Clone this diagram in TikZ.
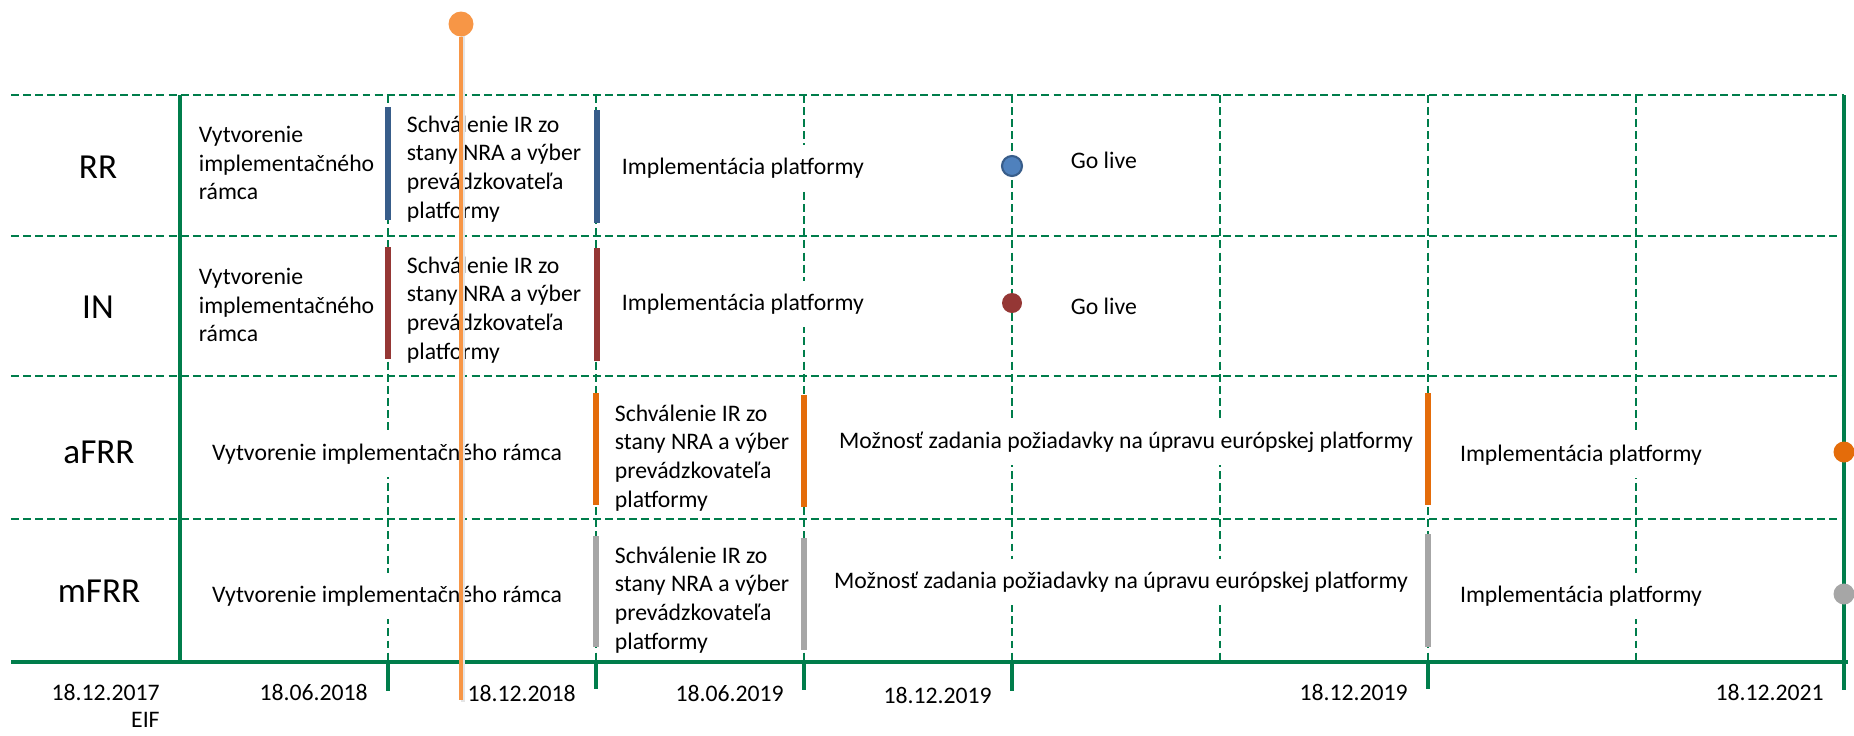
\documentclass[tikz,border=0pt]{standalone}
\usepackage{fontspec}
\setmainfont{Carlito}
\definecolor{tlgreen}{RGB}{0,125,75}
\definecolor{rrblue}{RGB}{56,93,138}
\definecolor{rrblueli}{RGB}{79,129,189}
\definecolor{inred}{RGB}{149,55,53}
\definecolor{afrrorange}{RGB}{228,108,10}
\definecolor{mfrrgrey}{RGB}{166,166,166}
\definecolor{markorange}{RGB}{247,150,70}
\begin{document}
\begin{tikzpicture}[x=0.02cm,y=0.02cm,line join=round,
  gridline/.style={draw=tlgreen,line width=0.9pt,dash pattern=on 4.5pt off 2.4pt},
  axisline/.style={draw=tlgreen,line width=2pt},
  phasebar/.style={line width=3.7pt},
  txt/.style={font=\fontsize{13.5}{16.4}\selectfont,fill=white,inner xsep=2pt,inner ysep=7.5pt,align=left},
  txtblock/.style={font=\fontsize{13.5}{16.4}\selectfont,inner xsep=2pt,inner ysep=2pt,align=left},
  rowlbl/.style={font=\fontsize{20}{24}\selectfont},
  datum/.style={font=\fontsize{13.5}{16.4}\selectfont,anchor=east,inner sep=0pt},
  livedot/.style={circle,inner sep=0pt,minimum size=0.4cm}]
\useasboundingbox (0,0) rectangle (1854,-735);
% dashed grid
\draw[gridline](11,-95)--(1844,-95);
\draw[gridline](11,-236)--(1844,-236);
\draw[gridline](11,-376)--(1844,-376);
\draw[gridline](11,-519)--(1844,-519);
\draw[gridline](388,-95)--(388,-662);
\draw[gridline](596,-95)--(596,-662);
\draw[gridline](804,-95)--(804,-662);
\draw[gridline](1012,-95)--(1012,-662);
\draw[gridline](1220,-95)--(1220,-662);
\draw[gridline](1428,-95)--(1428,-662);
\draw[gridline](1636,-95)--(1636,-662);

% rows
\node[rowlbl] (rr) at (98,-167) {RR};
\node[rowlbl] (in) at (98,-307) {IN};
\node[rowlbl] (afrr) at (99,-452) {aFRR};
\node[rowlbl] (mfrr) at (99,-591) {mFRR};

\node[txtblock,anchor=west] (rrframe) at (195,-163) {Vytvorenie\\implementačného\\rámca};
\node[txtblock,anchor=west] (rrappr) at (403,-169) {Schválenie IR zo\\stany NRA a výber\\prevádzkovateľa\\platformy};
\node[txt,anchor=west] (rrimpl) at (618,-168) {Implementácia platformy};
\node[txt,anchor=west] (rrgo) at (1067,-160) {Go live};

\node[txtblock,anchor=west] (inframe) at (195,-305) {Vytvorenie\\implementačného\\rámca};
\node[txtblock,anchor=west] (inappr) at (403,-310) {Schválenie IR zo\\stany NRA a výber\\prevádzkovateľa\\platformy};
\node[txt,anchor=west] (inimpl) at (618,-304) {Implementácia platformy};
\node[txt,anchor=west] (ingo) at (1067,-306) {Go live};

\node[txt] (afrrframe) at (387,-454) {Vytvorenie implementačného rámca};
\node[txtblock,anchor=west] (afrrappr) at (611,-458) {Schválenie IR zo\\stany NRA a výber\\prevádzkovateľa\\platformy};
\node[txt] (afrrreq) at (1126,-442) {Možnosť zadania požiadavky na úpravu európskej platformy};
\node[txt] (afrrimpl) at (1581,-455) {Implementácia platformy};

\node[txt] (mfrrframe) at (387,-596) {Vytvorenie implementačného rámca};
\node[txtblock,anchor=west] (mfrrappr) at (611,-600) {Schválenie IR zo\\stany NRA a výber\\prevádzkovateľa\\platformy};
\node[txt] (mfrrreq) at (1121,-582) {Možnosť zadania požiadavky na úpravu európskej platformy};
\node[txt] (mfrrimpl) at (1581,-596) {Implementácia platformy};

% frame and ticks
\draw[axisline](11,-662)--(1848,-662);
\draw[axisline](180,-95)--(180,-662);
\draw[axisline](1844,-95)--(1844,-690);
\draw[axisline](388,-662)--(388,-691);
\draw[axisline](596,-662)--(596,-689);
\draw[axisline](804,-662)--(804,-690);
\draw[axisline](1012,-662)--(1012,-691);
\draw[axisline](1428,-662)--(1428,-689);

% dates
\node[datum] (d0) at (160,-692) {18.12.2017};
\node[datum] (eif) at (160,-720) {EIF};
\node[datum] (d1) at (368,-692) {18.06.2018};
\node[datum] (d2) at (576,-693) {18.12.2018};
\node[datum] (d3) at (784,-693) {18.06.2019};
\node[datum] (d4) at (992,-695) {18.12.2019};
\node[datum] (d5) at (1408,-692) {18.12.2019};
\node[datum] (d6) at (1824,-692) {18.12.2021};

% phase bars
\draw[phasebar,rrblue](388,-107)--(388,-220);
\draw[phasebar,rrblue](597,-110)--(597,-223);
\draw[phasebar,inred](388,-247)--(388,-359);
\draw[phasebar,inred](597,-248)--(597,-361);
\draw[phasebar,afrrorange](596,-393)--(596,-505);
\draw[phasebar,afrrorange](804,-395)--(804,-507);
\draw[phasebar,afrrorange](1428,-393)--(1428,-505);
\draw[phasebar,mfrrgrey](596,-536)--(596,-647);
\draw[phasebar,mfrrgrey](804,-538)--(804,-650);
\draw[phasebar,mfrrgrey](1428,-534)--(1428,-647);

% milestones
\node[livedot,draw=rrblue,fill=rrblueli,line width=1.2pt] (rrlive) at (1012,-166) {};
\node[livedot,fill=inred] (inlive) at (1012,-303) {};
\node[livedot,fill=afrrorange,minimum size=0.42cm] (afrrend) at (1844,-452) {};
\node[livedot,fill=mfrrgrey,minimum size=0.42cm] (mfrrend) at (1844,-594) {};

% today marker
\coordinate (todayend) at (461,-700);
\draw[black!10,line width=2.5pt] (463,-30)--(463,-702);
\node[circle,fill=markorange,inner sep=0pt,minimum size=0.5cm] (today) at (461,-24) {};
\draw[markorange,line width=2.5pt] (today)--(todayend);
\end{tikzpicture}
\end{document}
